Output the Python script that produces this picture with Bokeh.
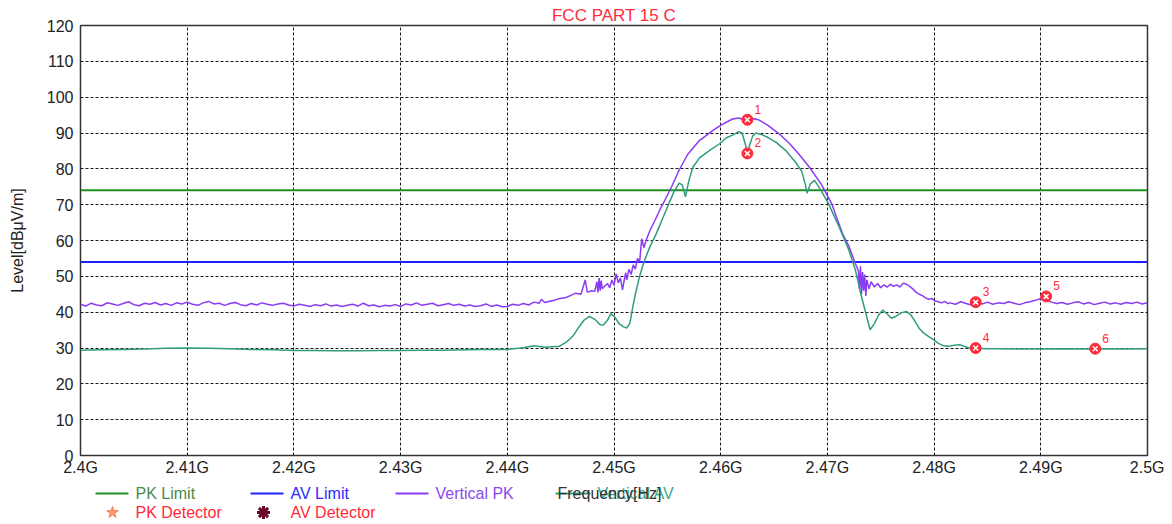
from bokeh.plotting import figure
from bokeh.layouts import column
from bokeh.models import Range1d, FixedTicker, CustomJSTickFormatter
from bokeh.core.properties import value
from bokeh.embed import file_html
from bokeh.resources import INLINE

FONT = "Liberation Sans"

# ---------------- data (frequencies in GHz, levels in dBuV/m) ----------------
pk_limit = 74.0
av_limit = 54.0

# Vertical PK, flat noisy part left: start 2.400 GHz, step 0.0005 GHz
pk_left_start = 2.400
pk_step = 0.0005
pk_left = [42.2, 41.7, 42.5, 42.0, 41.8, 42.6, 42.3, 41.9, 42.4, 42.9,
           42.1, 41.8, 42.5, 42.2, 42.7, 42.0, 42.4, 41.9, 42.6, 42.3,
           42.8, 42.2, 41.9, 42.6, 43.0, 42.3, 42.5, 41.9, 42.4, 42.7,
           42.1, 41.8, 42.4, 42.0, 42.6, 42.2, 41.9, 42.3, 42.5, 42.0,
           41.7, 42.2, 41.9, 41.6, 42.1, 41.8, 42.3, 41.7, 42.0, 41.6,
           41.9, 42.2, 41.7, 42.5, 41.8, 42.0, 41.5, 41.9, 41.7, 42.1,
           41.6, 42.3, 42.0, 42.6, 41.9, 42.2, 42.5, 41.8, 42.1, 42.4,
           41.9, 42.2, 41.7, 42.0, 41.6]

# Vertical PK, emission part
pk_mid_f = [2.4375, 2.4380, 2.4385, 2.4390, 2.4395, 2.4400, 2.4405, 2.4410, 2.4415, 2.4420,
            2.4425, 2.4430, 2.4432, 2.4435, 2.4444, 2.4449, 2.4454, 2.4459, 2.4464, 2.4469,
            2.4473, 2.4475, 2.4479, 2.4482, 2.4484, 2.4485, 2.4486, 2.4487, 2.4488, 2.4489,
            2.4491, 2.4494, 2.4496, 2.4498, 2.4500, 2.4502, 2.4504, 2.4506, 2.4508, 2.4509,
            2.4511, 2.4512, 2.4514, 2.4516, 2.4518, 2.4520, 2.4522, 2.4524, 2.4526, 2.4528,
            2.4530, 2.4534, 2.4539, 2.4544, 2.4549, 2.4554, 2.4561, 2.4569, 2.4580, 2.4594,
            2.4604, 2.4611, 2.4617, 2.4622, 2.4624, 2.4627, 2.4632, 2.4636, 2.4644, 2.4655,
            2.4664, 2.4673, 2.4683, 2.4694, 2.4704, 2.4714, 2.4720, 2.4724, 2.4727, 2.4729,
            2.4730, 2.4731, 2.4732, 2.4733, 2.4734, 2.4735, 2.4736, 2.4737, 2.4739, 2.4741,
            2.4744, 2.4747, 2.4750, 2.4753, 2.4756, 2.4759, 2.4762, 2.4765, 2.4768, 2.4771,
            2.4774, 2.4777, 2.4780, 2.4783, 2.4786, 2.4789, 2.4792, 2.4795, 2.4798, 2.4801,
            2.4804, 2.4807, 2.4810, 2.4813]
pk_mid = [41.8, 42.3, 41.6, 42.0, 41.5, 41.6, 42.2, 41.9, 42.4, 42.0,
          42.8, 42.5, 43.6, 42.7, 43.3, 43.8, 44.0, 44.6, 45.3, 45.0,
          49.0, 45.6, 46.0, 45.8, 48.5, 45.5, 49.5, 46.0, 48.8, 46.5,
          47.2, 48.0, 46.8, 49.0, 47.5, 50.7, 48.2, 49.5, 46.2, 48.0,
          51.0, 49.0, 52.0, 50.5, 53.2, 52.0, 55.0, 54.0, 60.5, 58.0,
          60.0, 63.0, 66.0, 69.2, 72.0, 75.0, 79.6, 84.0, 87.9, 91.0,
          92.8, 93.9, 94.2, 93.6, 93.3, 93.7, 94.0, 93.6, 92.2, 89.7,
          87.2, 84.2, 80.5, 75.8, 70.3, 62.0, 58.5, 55.3, 53.0, 51.5,
          46.5, 52.8, 45.0, 51.2, 46.0, 50.5, 44.5, 49.0, 46.5, 48.5,
          47.0, 48.0, 46.8, 47.6, 47.0, 47.8, 47.2, 47.6, 47.0, 48.1,
          47.8, 47.2, 46.5, 45.6, 45.0, 44.6, 44.0, 43.6, 43.8, 43.1,
          42.9, 42.6, 43.0, 42.4]

# Vertical PK, flat noisy part right: start 2.4815 GHz, step 0.0005 GHz
pk_right_start = 2.4815
pk_right = [42.6, 42.2, 42.9, 42.4, 42.0, 42.7, 42.3, 42.8, 42.2, 42.6,
            42.4, 42.9, 42.5, 42.1, 42.6, 42.9, 43.3, 43.8, 43.5, 42.8,
            42.4, 42.7, 42.2, 42.6, 42.9, 42.3, 42.7, 42.1, 42.5, 42.8,
            42.3, 42.6, 42.2, 42.7, 42.4, 42.8, 42.3, 42.6]

# Vertical AV
av_f = [2.400, 2.402, 2.404, 2.406, 2.408, 2.410, 2.412, 2.414, 2.416, 2.418,
        2.420, 2.422, 2.424, 2.426, 2.428, 2.430, 2.432, 2.434, 2.436, 2.438,
        2.4400, 2.4415, 2.4425, 2.4435, 2.4449, 2.4456, 2.4462, 2.4467, 2.4472, 2.4477,
        2.4482, 2.4487, 2.4490, 2.4494, 2.4497, 2.4501, 2.4505, 2.4509, 2.4512, 2.4515,
        2.4517, 2.4520, 2.4524, 2.4528, 2.4534, 2.4539, 2.4544, 2.4551, 2.4556, 2.4561,
        2.4564, 2.4567, 2.4570, 2.4574, 2.4580, 2.4589, 2.4599, 2.4605, 2.4611, 2.4617,
        2.4620, 2.4623, 2.4625, 2.4627, 2.4630, 2.4633, 2.4638, 2.4644, 2.4652, 2.4661,
        2.4670, 2.4676, 2.4679, 2.4681, 2.4684, 2.4688, 2.4694, 2.4701, 2.4711, 2.4720,
        2.4726, 2.4732, 2.4737, 2.4740, 2.4744, 2.4748, 2.4752, 2.4756, 2.4760, 2.4764,
        2.4769, 2.4774, 2.4778, 2.4782, 2.4786, 2.4790, 2.4795, 2.4800, 2.4804, 2.4809,
        2.4814, 2.4819, 2.4824, 2.4828, 2.4833, 2.4839, 2.4848, 2.4860, 2.4880, 2.4900,
        2.4920, 2.4940, 2.4960, 2.4980, 2.5000]
av = [29.4, 29.5, 29.6, 29.7, 29.9, 30.0, 29.9, 29.8, 29.6, 29.5,
      29.3, 29.3, 29.2, 29.2, 29.3, 29.3, 29.4, 29.4, 29.5, 29.6,
      29.6, 30.1, 30.6, 30.2, 30.5, 31.8, 33.5, 35.8, 37.8, 38.8,
      38.0, 36.5, 36.4, 37.8, 39.6, 38.5, 36.7, 35.9, 35.6, 37.0,
      40.5, 45.0, 50.0, 54.0, 58.5, 61.5, 65.0, 70.0, 73.5, 76.0,
      75.5, 72.2, 76.5, 80.5, 83.0, 85.0, 87.0, 88.6, 89.4, 90.4,
      90.0, 87.0, 84.3, 86.5, 89.2, 90.0, 89.6, 88.8, 87.4, 85.1,
      81.9, 79.3, 76.0, 73.2, 75.8, 76.8, 74.0, 70.3, 63.8, 57.4,
      52.0, 44.3, 38.5, 35.1, 36.8, 39.2, 40.6, 39.5, 38.3, 38.8,
      39.8, 40.2, 39.3, 37.5, 35.5, 34.2, 33.2, 32.2, 31.3, 30.6,
      30.5, 30.8, 30.9, 30.5, 30.0, 29.9, 29.8, 29.8, 29.7, 29.7,
      29.8, 29.7, 29.8, 29.7, 29.8]

# Markers
mk_f = [2.4625, 2.4625, 2.4839, 2.4839, 2.4905, 2.4951]
mk_level = [93.7, 84.3, 42.8, 30.0, 44.4, 29.8]
mk_label = ["1", "2", "3", "4", "5", "6"]

y_ticks = [0, 10, 20, 30, 40, 50, 60, 70, 80, 90, 100, 110, 120]
x_ticks_mhz = [2400, 2410, 2420, 2430, 2440, 2450, 2460, 2470, 2480, 2490, 2500]

# ---------------- build series ----------------
pk_f_all = ([pk_left_start + pk_step * i for i in range(len(pk_left))] + pk_mid_f +
            [pk_right_start + pk_step * i for i in range(len(pk_right))])
pk_all = pk_left + pk_mid + pk_right
pk_x = [f * 1000 for f in pk_f_all]
av_x = [f * 1000 for f in av_f]
mk_x = [f * 1000 for f in mk_f]

C_PK_LIM = "#1f8f1f"
C_AV_LIM = "#1f1fff"
C_PK = "#8a3cf5"
C_AV = "#2f9c80"
C_RED = "#ff2a3a"
C_TXT = "#222222"

W = 1164
FL, FR = 80, 1147          # frame left/right (page px)

p = figure(width=W, height=480, output_backend="svg", toolbar_location=None,
           x_range=Range1d(2400, 2500), y_range=Range1d(0, 120),
           min_border_left=FL, min_border_right=W - FR, min_border_top=25, min_border_bottom=25,
           background_fill_color="white", border_fill_color="white")
p.title.text = "FCC PART 15 C"
p.title.align = "center"
p.title.text_color = C_RED
p.title.text_font = FONT
p.title.text_font_size = "17px"
p.title.text_font_style = "normal"
p.title.standoff = 1

p.outline_line_color = "#333333"
p.outline_line_width = 1.5

p.xaxis.ticker = FixedTicker(ticks=x_ticks_mhz)
p.yaxis.ticker = FixedTicker(ticks=y_ticks)
p.xaxis.formatter = CustomJSTickFormatter(code="return (tick/1000).toString() + 'G';")
for ax in (p.xaxis[0], p.yaxis[0]):
    ax.axis_line_color = None
    ax.major_tick_in = 0
    ax.major_tick_out = 0
    ax.minor_tick_line_color = None
    ax.major_label_text_font = FONT
    ax.major_label_text_font_size = "16px"
    ax.major_label_text_color = C_TXT
p.xaxis.major_label_standoff = 3
p.yaxis.major_label_standoff = 7
p.yaxis.axis_label = "Level[dBμV/m]"
p.yaxis.axis_label_text_font = FONT
p.yaxis.axis_label_text_font_size = "16px"
p.yaxis.axis_label_text_font_style = "normal"
p.yaxis.axis_label_text_color = C_TXT
p.yaxis.axis_label_standoff = 18

p.xgrid.ticker = FixedTicker(ticks=x_ticks_mhz)
p.ygrid.ticker = FixedTicker(ticks=y_ticks)
for g in (p.xgrid[0], p.ygrid[0]):
    g.grid_line_color = "black"
    g.grid_line_dash = "3 2"
    g.grid_line_width = 1
    g.grid_line_alpha = 0.9

p.line([2400, 2500], [pk_limit, pk_limit], line_color=C_PK_LIM, line_width=2)
p.line([2400, 2500], [av_limit, av_limit], line_color=C_AV_LIM, line_width=2)
p.line(pk_x, pk_all, line_color=C_PK, line_width=1.5)
p.line(av_x, av, line_color=C_AV, line_width=1.5)

p.scatter(mk_x, mk_level, marker="circle", size=11, fill_color=C_RED, line_color=C_RED)
p.scatter(mk_x, mk_level, marker="x", size=7, line_color="white", line_width=1.5)
p.text(mk_x, mk_level, text=mk_label, text_color=C_RED, text_font=value(FONT),
       text_font_size="12px", x_offset=7, y_offset=-6, text_baseline="bottom")

# ---------------- legend strip (coordinates = page pixels) ----------------
LT, LB = 480, 522
lf = figure(width=W, height=LB - LT, output_backend="svg", toolbar_location=None,
            x_range=Range1d(FL, FR), y_range=Range1d(LB, LT),
            x_axis_location=None, y_axis_location=None,
            min_border_left=FL, min_border_right=W - FR, min_border_top=0, min_border_bottom=0,
            outline_line_color=None, background_fill_color="white",
            border_fill_color="white")
lf.xgrid.visible = False
lf.ygrid.visible = False

leg_line_x0 = [95, 250, 395, 555]
leg_line_x1 = [128, 283, 428, 590]
leg_line_c = [C_PK_LIM, C_AV_LIM, C_PK, C_AV]
leg_text_x = [135, 290, 435, 597]
leg_text = ["PK Limit", "AV Limit", "Vertical PK", "Vertical AV"]
leg_text_c = ["#4c8a4c", "#2a2aff", "#8a4af0", "#3aa88a"]
row1, row2 = 493, 512

lf.segment(x0=leg_line_x0, y0=[row1] * 4, x1=leg_line_x1, y1=[row1] * 4,
           line_color=leg_line_c, line_width=2)
lf.text(x=leg_text_x, y=[row1] * 4, text=leg_text, text_color=leg_text_c,
        text_font=value(FONT), text_font_size="16px", text_baseline="middle")
lf.text(x=[557], y=[row1], text=["Frequency[Hz]"], text_color="#333333",
        text_font=value(FONT), text_font_size="16px", text_baseline="middle")

lf.scatter([112], [row2], marker="star", size=12, fill_color="#ff9966", line_color="#ff7755")
lf.scatter([263], [row2], marker="asterisk", size=13, line_color="#6a0a2a", line_width=3)
lf.scatter([263], [row2], marker="circle", size=7, fill_color="#6a0a2a", line_color="#6a0a2a")
lf.text(x=[135, 290], y=[row2, row2], text=["PK Detector", "AV Detector"], text_color=C_RED,
        text_font=value(FONT), text_font_size="16px", text_baseline="middle")

layout = column(p, lf, spacing=0)
open("out.html", "w").write(file_html(layout, INLINE))
